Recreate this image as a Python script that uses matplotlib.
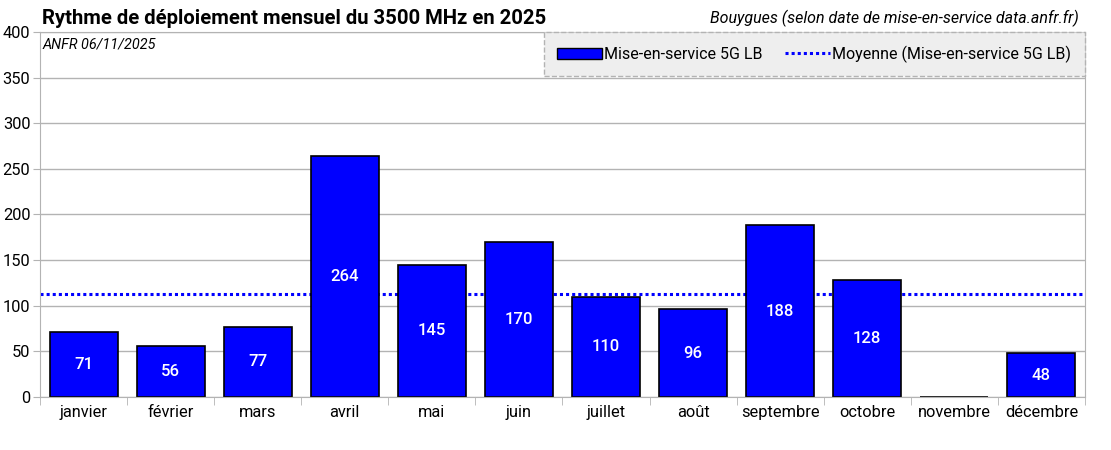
import numpy as np
import matplotlib.pyplot as plt
from matplotlib.patches import Patch
from matplotlib.lines import Line2D

plt.rcParams['font.family'] = ['Roboto', 'DejaVu Sans']

# data
mois = ['janvier', 'février', 'mars', 'avril', 'mai', 'juin', 'juillet',
        'août', 'septembre', 'octobre', 'novembre', 'décembre']
mises_en_service = [71, 56, 77, 264, 145, 170, 110, 96, 188, 128, 0, 48]
moyenne = np.mean(mises_en_service)

fig = plt.figure(figsize=(11.11, 4.5), dpi=100)
ax = fig.add_axes([0.036, 0.118, 0.9406, 0.811])

x = np.arange(len(mois))
ax.axhline(moyenne, color='#0000ff', linestyle=(0, (1, 1)), linewidth=2.2, zorder=1)
bars = ax.bar(x, mises_en_service, width=0.78, color='#0000ff', edgecolor='black',
              linewidth=1.2, zorder=2)
for xi, v in zip(x, mises_en_service):
    if v > 0:
        ax.text(xi, v / 2, str(v), color='white', ha='center', va='center',
                fontsize=12, fontweight='medium', zorder=3)

ax.set_xlim(-0.5, len(mois) - 0.5)
ax.set_ylim(0, 400)
ax.set_yticks(np.arange(0, 401, 50))
ax.set_xticks(x)
ax.set_xticklabels(mois, fontsize=11.8)
ax.set_xticks(np.arange(-0.5, len(mois), 1), minor=True)
ax.tick_params(axis='x', which='major', length=0, pad=6)
ax.tick_params(axis='x', which='minor', length=6, color='#b3b3b3')
ax.tick_params(axis='y', length=5, color='#b3b3b3', labelsize=11.8, pad=2)
ax.yaxis.grid(True, color='#b3b3b3', linewidth=1)
ax.set_axisbelow(True)
for s in ax.spines.values():
    s.set_color('#b3b3b3')

ax.text(0.002, 0.985, 'ANFR 06/11/2025', transform=ax.transAxes, fontsize=10.4,
        style='italic', ha='left', va='top')
fig.text(0.038, 0.96, 'Rythme de déploiement mensuel du 3500 MHz en 2025',
         fontsize=14.6, fontweight='bold', ha='left', va='center')
fig.text(0.971, 0.96, 'Bouygues (selon date de mise-en-service data.anfr.fr)',
         fontsize=11.5, style='italic', ha='right', va='center')

handles = [Patch(facecolor='#0000ff', edgecolor='black'),
           Line2D([0], [0], color='#0000ff', linestyle=(0, (1, 1)), linewidth=2.2)]
leg = ax.legend(handles, ['Mise-en-service 5G LB', 'Moyenne (Mise-en-service 5G LB)'],
                loc='upper right', ncol=2, fontsize=11.5, frameon=True, fancybox=False,
                borderaxespad=0, handlelength=2.8, handletextpad=0.15, columnspacing=1.4,
                borderpad=0.85)
leg.get_frame().set_facecolor('#eeeeee')
leg.get_frame().set_edgecolor('#b3b3b3')
leg.get_frame().set_linestyle('--')
leg.get_frame().set_alpha(1)

fig.savefig('out.png')
